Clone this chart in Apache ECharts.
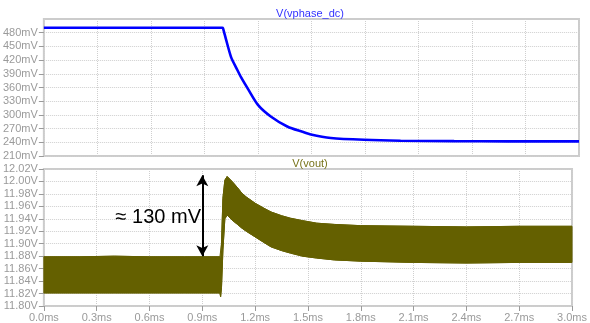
<!DOCTYPE html>
<html><head><meta charset="utf-8">
<script src="https://cdn.jsdelivr.net/npm/echarts@6/dist/echarts.min.js"></script>
<style>html,body{margin:0;padding:0;background:#fff}#c{width:590px;height:323px}</style>
</head><body><div id="c"></div>
<script>
// ---- data (times in ms) ----
const phaseTitle = 'V(vphase_dc)';
const voutTitle = 'V(vout)';
const phaseT  = [0, 0.5, 1.0, 1.004, 1.02, 1.05, 1.08, 1.106, 1.144, 1.2, 1.274, 1.367, 1.45, 1.497, 1.609, 1.795, 2.0, 2.3, 2.6, 3.0];
const phaseMv = [491, 491, 491, 490, 467, 426, 402, 382, 357, 322, 296, 274, 263, 257, 249.5, 245.5, 243.5, 242.5, 242, 242];
const voutT     = [0, 0.2, 0.4, 0.6, 0.8, 1.0, 1.004, 1.009, 1.017, 1.028, 1.041, 1.069, 1.1, 1.125, 1.15, 1.2, 1.25, 1.29, 1.35, 1.4, 1.47, 1.55, 1.65, 1.8, 2.1, 2.4, 2.7, 3.0];
const voutUpper = [11.879, 11.879, 11.880, 11.879, 11.879, 11.879, 11.878, 11.900, 11.973, 12.002, 12.008, 12.000, 11.990, 11.981, 11.975, 11.965, 11.957, 11.951, 11.945, 11.941, 11.937, 11.933, 11.931, 11.929, 11.928, 11.927, 11.928, 11.928];
const voutLower = [11.821, 11.821, 11.821, 11.821, 11.821, 11.821, 11.815, 11.830, 11.890, 11.940, 11.946, 11.938, 11.931, 11.925, 11.920, 11.911, 11.902, 11.895, 11.889, 11.885, 11.880, 11.877, 11.874, 11.872, 11.870, 11.869, 11.870, 11.870];
const phaseTicksMv = [210, 240, 270, 300, 330, 360, 390, 420, 450, 480];
const annotText = '≈ 130 mV';
const arrowT = 0.9, arrowFrom = 11.88, arrowTo = 12.01;
const annotT = 0.65, annotV = 11.942;

// ---- styles ----
const BLUE = '#0000ff', OLIVE = '#646000', GRAY = '#9a9a9a', GRID = '#cfcfcf';
const FONT = 'Liberation Sans, Arial, sans-serif';

const chart = echarts.init(document.getElementById('c'), null, {renderer: 'canvas'});
const phaseData = phaseT.map((t, i) => [t, phaseMv[i]]);
const bandData = voutT.map((t, i) => [t, voutUpper[i], voutLower[i]]);
const lowerData = voutT.map((t, i) => [t, voutLower[i]]);
const upperData = voutT.map((t, i) => [t, voutUpper[i]]);

function xAxis(idx, showLabels) {
  return {
    type: 'value', gridIndex: idx, min: 0, max: 3, interval: 0.3,
    axisLine: {show: false},
    axisTick: {show: showLabels, length: 5, lineStyle: {color: GRAY}},
    axisLabel: {show: showLabels, color: GRAY, fontSize: 11, fontFamily: FONT, margin: 6,
      formatter: v => v.toFixed(1) + 'ms'},
    splitLine: {show: true, lineStyle: {color: GRID, type: 'dotted', width: 1}}
  };
}

chart.setOption({
  animation: false,
  backgroundColor: '#fff',
  title: [
    {text: phaseTitle, left: 310, top: 8, padding: 0, textAlign: 'center',
     textStyle: {color: '#3333ff', fontSize: 11, fontWeight: 'normal', fontFamily: FONT}},
    {text: voutTitle, left: 310, top: 158, padding: 0, textAlign: 'center',
     textStyle: {color: '#77731a', fontSize: 11, fontWeight: 'normal', fontFamily: FONT}}
  ],
  grid: [
    {left: 42, right: 11, top: 19, height: 137, show: true, borderColor: '#cccccc', borderWidth: 2, backgroundColor: 'transparent'},
    {left: 42, right: 11, top: 169, height: 137, show: true, borderColor: '#cccccc', borderWidth: 2, backgroundColor: 'transparent'}
  ],
  xAxis: [xAxis(0, false), xAxis(1, true)],
  yAxis: [
    {type: 'value', gridIndex: 0, min: 210, max: 510, interval: 30,
     axisLine: {show: false},
     axisTick: {show: true, length: 5, lineStyle: {color: GRAY}, customValues: phaseTicksMv},
     axisLabel: {color: GRAY, fontSize: 11, fontFamily: FONT, margin: 6, customValues: phaseTicksMv,
       formatter: v => Math.round(v) + 'mV'},
     splitLine: {show: true, lineStyle: {color: GRID, type: 'dotted', width: 1}}},
    {type: 'value', gridIndex: 1, min: 11.80, max: 12.02, interval: 0.02,
     axisLine: {show: false},
     axisTick: {show: true, length: 5, lineStyle: {color: GRAY}},
     axisLabel: {color: GRAY, fontSize: 11, fontFamily: FONT, margin: 6,
       formatter: v => v.toFixed(2) + 'V'},
     splitLine: {show: true, lineStyle: {color: GRID, type: 'dotted', width: 1}}}
  ],
  series: [
    {type: 'line', xAxisIndex: 0, yAxisIndex: 0, data: phaseData, showSymbol: false,
     lineStyle: {color: BLUE, width: 2.6}, smooth: 0.25},
    {type: 'custom', xAxisIndex: 1, yAxisIndex: 1, data: bandData, encode: {x: 0, y: [1, 2]},
     clip: true,
     renderItem: function (params, api) {
       if (params.dataIndex !== 0) return null;
       const up = voutT.map((t, i) => api.coord([t, voutUpper[i]]));
       const lo = voutT.map((t, i) => api.coord([t, voutLower[i]])).reverse();
       return {type: 'polygon', shape: {points: up.concat(lo)},
               style: {fill: OLIVE, stroke: OLIVE, lineWidth: 1}};
     }},
    {type: 'line', xAxisIndex: 1, yAxisIndex: 1, data: upperData, showSymbol: false,
     lineStyle: {color: OLIVE, width: 1}},
    {type: 'line', xAxisIndex: 1, yAxisIndex: 1, data: lowerData, showSymbol: false,
     lineStyle: {color: OLIVE, width: 1},
     markLine: {silent: true, symbol: ['arrow', 'arrow'], symbolSize: [9, 11], label: {show: false},
       lineStyle: {color: '#000', width: 2, type: 'solid'},
       data: [[{coord: [arrowT, arrowFrom]}, {coord: [arrowT, arrowTo]}]]},
     markPoint: {silent: true, symbol: 'circle', symbolSize: 0,
       data: [{coord: [annotT, annotV], label: {show: true, position: 'inside', formatter: annotText,
         color: '#000', fontSize: 20, fontFamily: FONT}}]}}
  ]
});
</script></body></html>
